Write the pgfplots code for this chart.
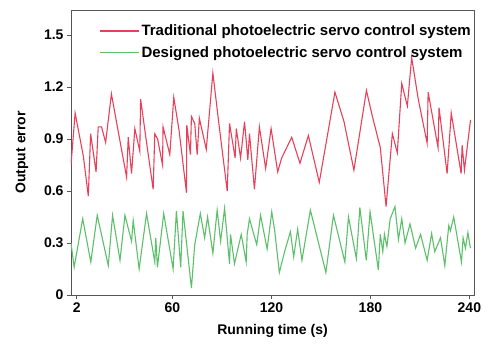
\documentclass[border=0pt]{standalone}
\usepackage{pgfplots}
\pgfplotsset{compat=1.18}
\usepackage{fontspec}
\setmainfont{Liberation Sans}
\definecolor{redline}{HTML}{E8405A}
\definecolor{greenline}{HTML}{5CBF6A}
\definecolor{axgray}{HTML}{555555}
\begin{document}
\begin{tikzpicture}
\begin{axis}[
  name=ax,
  scale only axis,
  width=403pt, height=285pt,
  xmin=-1.5, xmax=242.8,
  ymin=0, ymax=1.644,
  xtick={2,60,120,180,240},
  ytick={0,0.3,0.6,0.9,1.2,1.5},
  yticklabels={0,0.3,0.6,0.9,1.2,1.5},
  xticklabels={2,60,120,180,240},
  xtick pos=left, ytick pos=left,
  tick align=outside,
  major tick length=4pt,
  axis line style={axgray, line width=0.9pt},
  every tick/.style={axgray, line width=0.9pt},
  /pgf/number format/assume math mode=true,
  tick label style={font=\fontsize{14}{16}\selectfont\bfseries},
  xlabel={Running time (s)},
  ylabel={Output error},
  every axis x label/.style={at={(axis description cs:0.5,-0.1263)}, anchor=center,
    font=\fontsize{14}{16}\selectfont\bfseries},
  every axis y label/.style={at={(axis description cs:-0.1216,0.5)}, anchor=center, rotate=90,
    font=\fontsize{14}{16}\selectfont\bfseries},
  legend style={at={(1,0.962)}, anchor=north east, draw=none, fill=none,
    font=\fontsize{15}{17}\selectfont\bfseries, row sep=5pt, inner xsep=1pt},
  legend cell align=left,
  legend image code/.code={\draw[#1, line width=1.4pt] (0pt,0.3pt) -- (39pt,0.3pt);},
]
\addplot[redline, line width=1.1pt] coordinates {
(-1.5,0.75) (1.0,1.05) (6,0.80) (9,0.57) (10.4,0.93) (13.7,0.71) (15,0.97) (17,0.97)
(19.5,0.88) (23,1.16) (27,0.95) (32.2,0.68) (33.2,0.91) (35.2,0.70) (37.2,0.96)
(40.2,0.83) (40.7,1.13) (44,0.90) (48.3,0.61) (49.3,0.93) (51,0.90) (54,0.75)
(54.3,0.97) (58.4,0.81) (60.8,1.14) (64,0.95) (68.5,0.59) (68.7,0.98) (70.9,0.81)
(71.5,1.03) (73.5,0.99) (75,0.81) (76.3,1.02) (80.5,0.84) (84.5,1.28) (88,1.00)
(93.2,0.60) (94.6,0.99) (98,0.79) (98.7,0.96) (101.3,0.79) (103.7,1.00) (105.7,0.78)
(106.7,0.93) (109.7,0.61) (112.7,0.97) (116.5,0.73) (119.8,0.96) (123.8,0.71)
(126.2,0.79) (132.3,0.91) (137.3,0.76) (142.4,0.92) (149,0.65) (158.5,1.17)
(164,1.00) (170,0.72) (177.6,1.18) (181.2,1.03) (186,0.85) (189.5,0.51) (193.3,0.93)
(196.3,0.82) (199,1.22) (202.4,1.09) (205,1.37) (209,1.13) (214.4,0.875) (215,1.17)
(221,0.85) (221.6,1.08) (226.5,0.70) (229,1.05) (235,0.70) (235.6,0.865) (237,0.72)
(240.7,1.01)
};
\addlegendentry{Traditional photoelectric servo control system}
\addplot[greenline, line width=1.1pt] coordinates {
(-1.5,0.30) (0.4,0.16) (5.6,0.44) (10.5,0.19) (14.4,0.46) (21.1,0.17) (23.7,0.46)
(28.2,0.20) (31.2,0.46) (35.2,0.31) (36.2,0.43) (39.8,0.15) (44.3,0.47) (49.3,0.19)
(49.9,0.33) (50.9,0.16) (54.7,0.47) (60.4,0.15) (62.4,0.485) (65,0.16) (66.4,0.485)
(71.5,0.04) (73.5,0.29) (76.9,0.47) (79.5,0.33) (81.3,0.45) (84.5,0.24) (87.1,0.49)
(89.2,0.31) (91.6,0.50) (94.6,0.18) (95.2,0.35) (97.6,0.18) (101.7,0.35) (104.7,0.19)
(105.3,0.35) (106.7,0.44) (109,0.36) (111.1,0.29) (113.4,0.46) (117.4,0.265)
(120.2,0.48) (122,0.37) (124.8,0.13) (128,0.25) (131.5,0.365) (133.5,0.22)
(135.9,0.38) (138.5,0.20) (143.6,0.49) (153,0.13) (157.6,0.46) (164.5,0.19)
(166.7,0.45) (171.5,0.21) (173.6,0.505) (177.5,0.20) (179.8,0.48) (184.8,0.145)
(186,0.35) (187.5,0.25) (188.5,0.35) (190,0.28) (192,0.44) (194.9,0.51) (197,0.32)
(199,0.44) (201,0.30) (204,0.41) (207.4,0.27) (210.4,0.35) (214.4,0.20) (217.1,0.355)
(219,0.25) (222.5,0.33) (225.1,0.17) (227.5,0.40) (228.5,0.37) (230.5,0.45)
(235.2,0.19) (236.2,0.33) (237.6,0.27) (239.1,0.36) (240.6,0.27)
};
\addlegendentry{Designed photoelectric servo control system}
\end{axis}
\pgfresetboundingbox
\path ([xshift=-71pt,yshift=-57pt]ax.south west) rectangle ([xshift=26pt,yshift=10pt]ax.north east);
\end{tikzpicture}
\end{document}
